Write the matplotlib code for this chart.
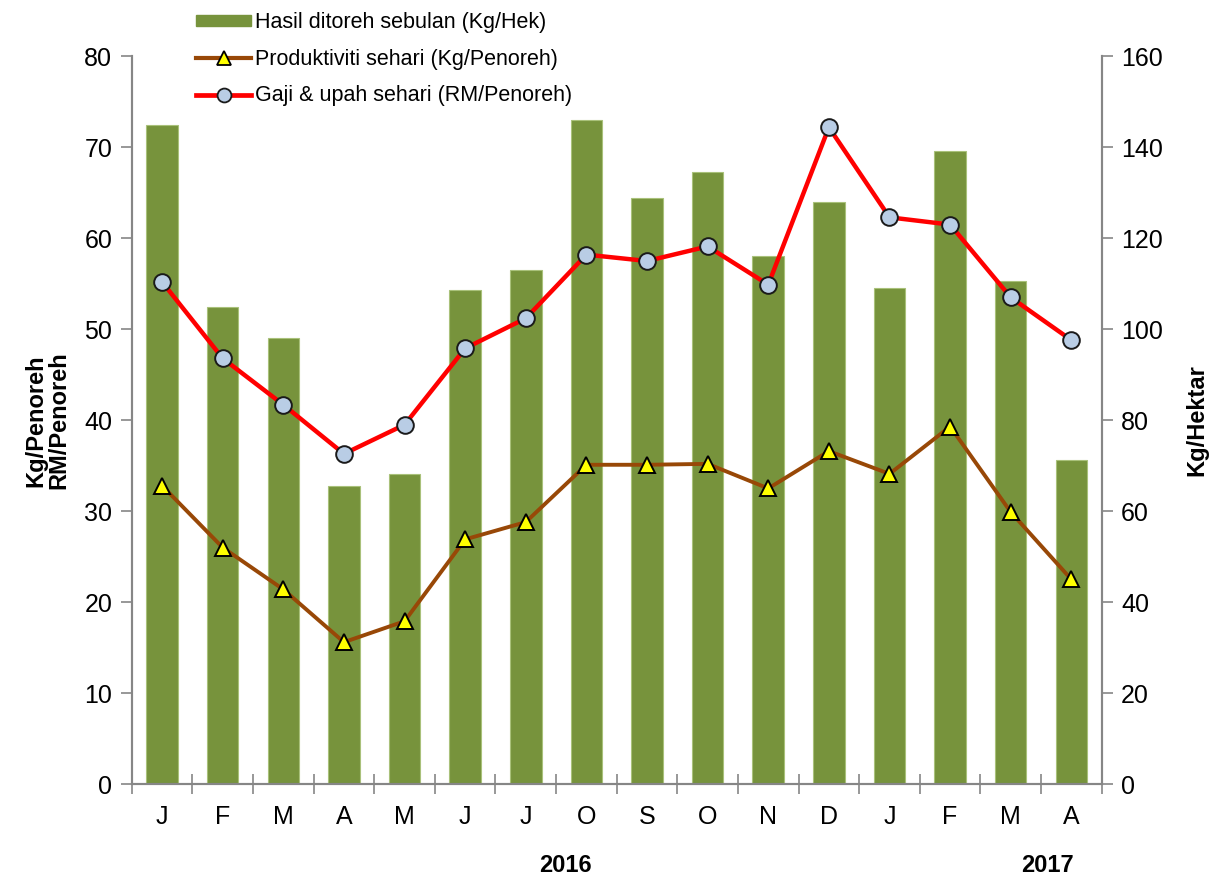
import numpy as np
import matplotlib.pyplot as plt
from matplotlib.patches import Patch
from matplotlib.lines import Line2D

plt.rcParams['font.family'] = ['Liberation Sans', 'DejaVu Sans']

months = ['J', 'F', 'M', 'A', 'M', 'J', 'J', 'O', 'S', 'O', 'N', 'D', 'J', 'F', 'M', 'A']
hasil = [144.9, 104.8, 98.1, 65.5, 68.1, 108.7, 113.0, 145.9, 128.9, 134.5, 116.0, 127.9, 109.0, 139.1, 110.5, 71.3]
produktiviti = [32.8, 26.0, 21.4, 15.6, 17.9, 26.9, 28.8, 35.1, 35.1, 35.2, 32.5, 36.6, 34.1, 39.3, 29.9, 22.5]
gaji = [55.2, 46.8, 41.7, 36.3, 39.5, 47.9, 51.2, 58.2, 57.5, 59.1, 54.9, 72.2, 62.3, 61.5, 53.5, 48.8]
years = ['2016', '2017']
year_pos = [6.66, 14.6]

grey = '#868686'
x = np.arange(len(months))

fig = plt.figure(figsize=(12.2, 8.8), dpi=100)
ax = fig.add_axes([0.108, 0.109, 0.795, 0.827])
ax2 = ax.twinx()

ax2.bar(x, hasil, width=0.52, color='#77933C', edgecolor='#A9C17A', linewidth=0.8)
ax.plot(x, produktiviti, color='#984807', lw=2.8, marker='^', ms=12,
        mfc='#FFFF00', mec='black', mew=1.4)
ax.plot(x, gaji, color='#FF0000', lw=3.2, marker='o', ms=12,
        mfc='#B9CDE5', mec='#1a1a1a', mew=1.4)

ax.set_zorder(ax2.get_zorder() + 1)
ax.patch.set_visible(False)

ax.set_xlim(-0.5, len(months) - 0.5)
ax.set_ylim(0, 80)
ax2.set_ylim(0, 160)
ax.set_yticks(np.arange(0, 81, 10))
ax2.set_yticks(np.arange(0, 161, 20))

ax.set_xticks(x)
ax.set_xticklabels(months)
ax.set_xticks(np.arange(-0.5, len(months), 1), minor=True)
ax.tick_params(axis='x', which='major', length=0, pad=15, labelsize=18)
ax.tick_params(axis='x', which='minor', length=14, direction='inout', color=grey, width=1.2)
ax.tick_params(axis='y', length=8, color=grey, width=1.2, labelsize=18, pad=6)
ax2.tick_params(axis='y', length=8, color=grey, width=1.2, labelsize=18, pad=6)

for a in (ax, ax2):
    a.spines['top'].set_visible(False)
    for s in ('left', 'right', 'bottom'):
        a.spines[s].set_color(grey)
        a.spines[s].set_linewidth(1.5)

ax.set_ylabel('Kg/Penoreh\nRM/Penoreh', fontsize=17, fontweight='bold', labelpad=10, linespacing=1.0)
ax2.set_ylabel('Kg/Hektar', fontsize=17, fontweight='bold', labelpad=16)

for yr, pos in zip(years, year_pos):
    ax.text(pos, -0.112, yr, transform=ax.get_xaxis_transform(), ha='center', va='center',
            fontsize=17, fontweight='bold')

handles = [
    Patch(facecolor='#77933C', edgecolor='#77933C'),
    Line2D([], [], color='#984807', lw=3.0, marker='^', ms=10, mfc='#FFFF00', mec='black', mew=1.3),
    Line2D([], [], color='#FF0000', lw=3.4, marker='o', ms=10, mfc='#B9CDE5', mec='#1a1a1a', mew=1.3),
]
labels = ['Hasil ditoreh sebulan (Kg/Hek)', 'Produktiviti sehari (Kg/Penoreh)',
          'Gaji & upah sehari (RM/Penoreh)']
fig.legend(handles, labels, loc='upper left', bbox_to_anchor=(0.145, 1.008), frameon=False,
           fontsize=15.5, handlelength=2.55, handleheight=0.4, handletextpad=0.2, labelspacing=0.72)

fig.savefig('out.png', dpi=100)
